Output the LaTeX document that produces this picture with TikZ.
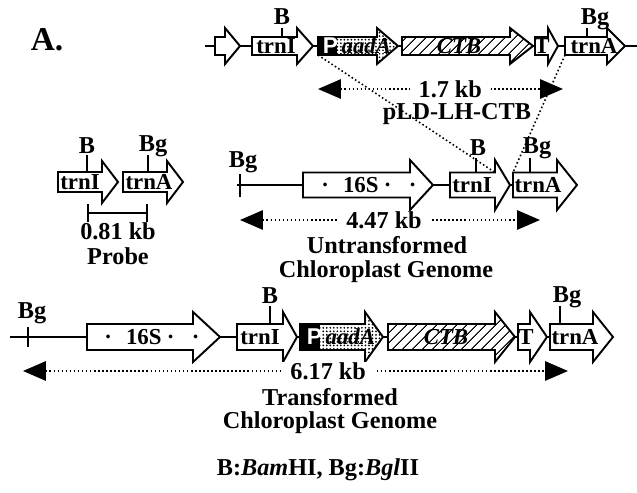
\documentclass[tikz,border=0pt]{standalone}
\usepackage{fontspec}
\setmainfont{Liberation Serif}
\setsansfont{Liberation Sans}
\usetikzlibrary{arrows.meta,calc,patterns.meta}

\newcommand{\bh}{9}
\newcommand{\hh}{18}
% gene arrow: name, start, body end, tip, row y, extra style, label x, label
\newcommand{\gene}[8]{%
  \draw[gene,#6] (#2,#5-\bh) coordinate (#1-tl) -- (#3,#5-\bh) coordinate (#1-tr)
    -- (#3,#5-\hh) -- (#4,#5) -- (#3,#5+\hh) -- (#3,#5+\bh) coordinate (#1-br)
    -- (#2,#5+\bh) coordinate (#1-bl) -- cycle;
  \node[genelabel] (#1) at (#7,#5) {#8};}
% restriction site: name, x, tick top, tick bottom, label, label x, label y
\newcommand{\site}[7]{%
  \draw[tick] (#2,#3) -- (#2,#4);
  \node[lbl] (#1) at (#6,#7) {#5};}

\begin{document}
\begin{tikzpicture}[x=0.02cm,y=-0.02cm,
  gene/.style={draw,line width=1.1pt,fill=white},
  genelabel/.style={inner sep=0pt,font=\bfseries\fontsize{13}{14}\selectfont},
  lbl/.style={inner sep=0pt,font=\bfseries\fontsize{13.8}{15}\selectfont},
  tick/.style={line width=1.2pt},
  dnaline/.style={line width=1.2pt},
  dim/.style={line width=0.9pt,dash pattern=on 0.9pt off 1.4pt,>={Triangle[length=13pt,width=11pt]},<->},
  dimlbl/.style={lbl,fill=white,inner xsep=5pt,inner ysep=0pt},
  link/.style={line width=0.9pt,dash pattern=on 0.9pt off 1.4pt},
  hatch/.style={postaction={pattern={Lines[angle=45,distance=4pt,line width=0.6pt]}}},
  dotfill/.style={postaction={pattern={Dots[distance=2pt,radius=0.55pt]}}},
  pblock/.style={path picture={\fill[black] (path picture bounding box.north west) rectangle ([xshift=#1]path picture bounding box.south west);}}]
 \useasboundingbox (0,0) rectangle (637,493);
 \node[lbl,font=\bfseries\fontsize{19}{20}\selectfont] (title) at (47,40) {A.};

 % pLD-LH-CTB
 \draw[dnaline] (205,46) -- (637,46);
 \gene{e0}{215}{225}{240}{46}{}{225}{}
 \gene{trnIt}{252}{297}{313}{46}{}{276}{trnI}
 \gene{PaT}{318}{377}{398}{46}{dotfill,pblock=0.38cm}{357}{\textcolor{white}{\sffamily P}\hspace{2pt}\textit{aadA}}
 \gene{CTBt}{402}{510}{533}{46}{hatch}{459}{\textit{CTB}}
 \gene{Tt}{535}{548}{558}{46}{}{542}{T}
 \gene{trnAt}{565}{607}{625}{46}{}{594}{trnA}
 \site{Bt}{282}{28}{37}{B}{282}{17}
 \site{Bgt}{587}{28}{37}{Bg}{595}{19}
 \coordinate (d1a) at (318,89);
 \coordinate (d1b) at (563,89);
 \draw[dim] (d1a) -- node[dimlbl,pos=.54] (d17) {1.7 kb} (d1b);
 \node[lbl] (plas) at (457,114) {pLD-LH-CTB};

 % probe
 \renewcommand{\bh}{10}\renewcommand{\hh}{21}
 \gene{trnIp}{58}{102}{118}{182}{}{80}{trnI}
 \gene{trnAp}{123}{167}{183}{182}{}{149}{trnA}
 \site{Bp}{87}{155}{172}{B}{87}{146}
 \site{Bgp}{148}{155}{172}{Bg}{153}{146}
 \coordinate (pa) at (87,213);
 \coordinate (pb) at (148,213);
 \draw[tick,{Bar[width=10pt]}-{Bar[width=10pt]}] (pa) -- (pb);
 \node[lbl] (size) at (118,231) {0.81 kb};
 \node[lbl] (probe) at (118,256) {Probe};

 % untransformed genome
 \renewcommand{\bh}{12.5}\renewcommand{\hh}{25}
 \draw[dnaline] (237,185) -- (513,185);
 \gene{S16u}{303}{410}{433}{185}{}{369}{·\hspace{8pt}16S\hspace{3pt}·\hspace{10pt}·}
 \gene{trnIu}{450}{495}{510}{185}{}{472}{trnI}
 \gene{trnAu}{513}{557}{577}{185}{}{538}{trnA}
 \site{Bgu1}{240}{174}{197}{Bg}{243}{162}
 \site{Bu}{476}{158}{172.5}{B}{478}{148}
 \site{Bgu2}{530}{158}{172.5}{Bg}{537}{148}
 \coordinate (d2a) at (240,220);
 \coordinate (d2b) at (540,220);
 \draw[dim] (d2a) -- node[dimlbl,pos=.48] (d447) {4.47 kb} (d2b);
 \node[lbl] (untr) at (387,245) {Untransformed};
 \node[lbl] (untr2) at (386,272) {Chloroplast Genome};

 % insertion
 \draw[link] (PaT-bl) -- (trnIu-tr);
 \draw[link] (trnAt-bl) -- (trnAu-tl);

 % transformed genome
 \renewcommand{\bh}{13}\renewcommand{\hh}{25}
 \draw[dnaline] (10,337) -- (550,337);
 \gene{S16x}{87}{193}{220}{337}{}{152}{·\hspace{8pt}16S\hspace{3pt}·\hspace{10pt}·}
 \gene{trnIx}{237}{283}{297}{337}{}{260}{trnI}
 \gene{PaX}{300}{365}{383}{337}{dotfill,pblock=0.4cm}{341}{\textcolor{white}{\sffamily P}\hspace{2pt}\textit{aadA}}
 \gene{CTBx}{388}{495}{515}{337}{hatch}{446}{\textit{CTB}}
 \gene{Tx}{518}{530}{547}{337}{}{526}{T}
 \gene{trnAx}{550}{593}{613}{337}{}{575}{trnA}
 \site{Bgx1}{28}{327}{347}{Bg}{32}{313}
 \site{Bx}{270}{306}{324}{B}{270}{296}
 \site{Bgx2}{560}{306}{324}{Bg}{567}{297}
 \coordinate (d3a) at (23,371);
 \coordinate (d3b) at (568,371);
 \draw[dim] (d3a) -- node[dimlbl,pos=.56] (d617) {6.17 kb} (d3b);
 \node[lbl] (tr) at (330,397) {Transformed};
 \node[lbl] (tr2) at (330,423) {Chloroplast Genome};

 \node[lbl] (key) at (318,470) {B:\textit{Bam}HI, Bg:\textit{Bgl}II};
\end{tikzpicture}
\end{document}
